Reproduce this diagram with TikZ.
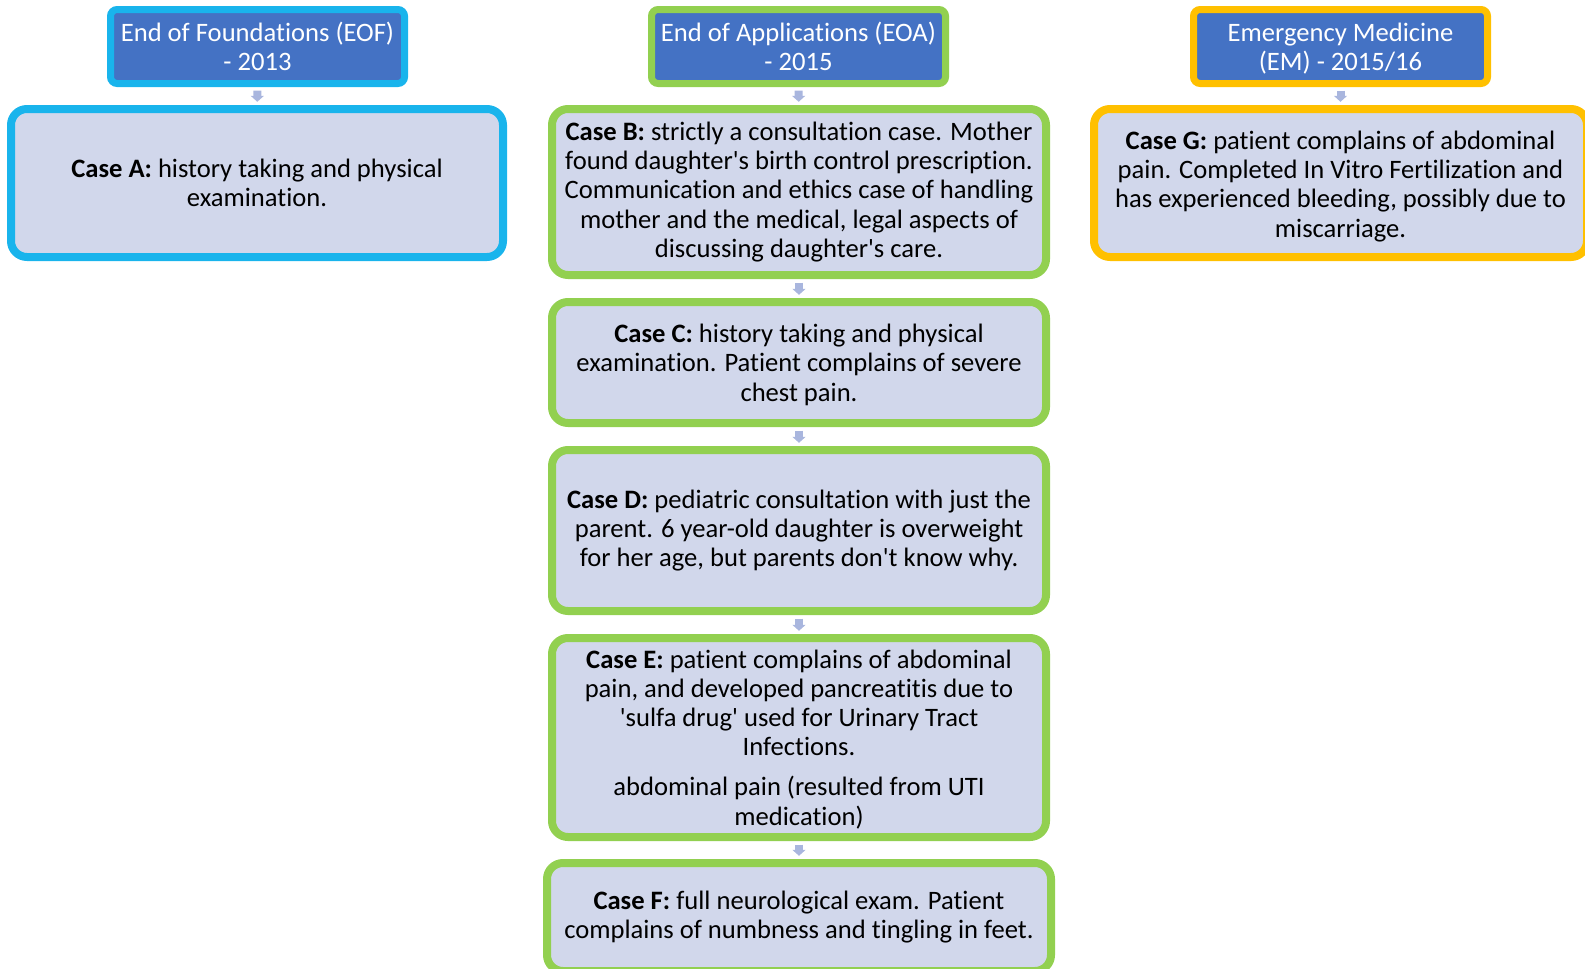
\documentclass[tikz,border=0pt]{standalone}
\usepackage{fontspec}
\newfontfamily\calfont{Carlito}[Ligatures={NoCommon}]
\usetikzlibrary{arrows.meta}
\definecolor{cyanb}{HTML}{19B4EC}
\definecolor{greenb}{HTML}{92D050}
\definecolor{goldb}{HTML}{FFC000}
\definecolor{headfill}{HTML}{4472C4}
\definecolor{casefill}{HTML}{D1D7EB}
\definecolor{arrowc}{HTML}{A9B6DE}
\tikzset{
  header/.style={draw=#1, line width=3.5pt, fill=headfill, rounded corners=3.3pt,
    minimum width=147pt, minimum height=37pt, inner sep=0pt, align=center,
    text=white, font=\calfont\fontsize{13.3}{14.6}\selectfont},
  casebox/.style={draw=#1, line width=4pt, fill=casefill, rounded corners=8pt,
    inner sep=0pt, align=center, text=black, font=\calfont\fontsize{13.3}{14.6}\selectfont},
  conn/.style={draw=arrowc, line width=4pt, shorten <=1.8pt, shorten >=1.6pt,
    -{Triangle[width=6.5pt,length=3pt]}}
}
\begin{document}
\begin{tikzpicture}[x=0.5pt,y=-0.5pt]
\useasboundingbox (0,0) rectangle (1585,969);
\clip (0,0) rectangle (1585,969);
% headers
\node[header=cyanb] (hA) at (257.5,46.5) {End of Foundations (EOF)\\- 2013};
\node[header=greenb] (hB) at (798.5,46.5) {End of Applications (EOA)\\- 2015};
\node[header=goldb] (hC) at (1340.5,46.5) {\rule{0pt}{11pt}Emergency Medicine\\(EM) - 2015/16};
% column 1
\node[casebox=cyanb, minimum width=246pt, minimum height=74pt] (cA) at (257,183)
  {\textbf{Case A:} history taking and physical\\examination.};
% column 2
\node[casebox=greenb, minimum width=247pt, minimum height=83pt] (cB) at (799,192)
  {\textbf{Case B:} strictly a consultation case. Mother\\found daughter's birth control prescription.\\Communication and ethics case of handling\\mother and the medical, legal aspects of\\discussing daughter's care.};
\node[casebox=greenb, minimum width=247pt, minimum height=60.5pt] (cC) at (799,362.5)
  {\rule{0pt}{11.5pt}\textbf{Case C:} history taking and physical\\examination. Patient complains of severe\\chest pain.};
\node[casebox=greenb, minimum width=247pt, minimum height=80.5pt] (cD) at (799,530.5)
  {\textbf{Case D:} pediatric consultation with just the\\parent. 6 year-old daughter is overweight\\for her age, but parents don't know why.};
\node[casebox=greenb, minimum width=247pt, minimum height=99.5pt] (cE) at (799,737.5)
  {\rule{0pt}{11pt}\textbf{Case E:} patient complains of abdominal\\pain, and developed pancreatitis due to\\'sulfa drug' used for Urinary Tract\\Infections.\\[5.5pt]abdominal pain (resulted from UTI\\medication)};
\node[casebox=greenb, minimum width=252pt, minimum height=54pt] (cF) at (799,917)
  {\textbf{Case F:} full neurological exam. Patient\\complains of numbness and tingling in feet.};
% column 3
\node[casebox=goldb, minimum width=246.5pt, minimum height=74pt] (cG) at (1340.5,183)
  {\rule{0pt}{12.5pt}\textbf{Case G:} patient complains of abdominal\\pain. Completed In Vitro Fertilization and\\has experienced bleeding, possibly due to\\miscarriage.};
% connectors
\draw[conn] (hA) -- (cA);
\draw[conn] (hB) -- (cB);
\draw[conn] (cB) -- (cC);
\draw[conn] (cC) -- (cD);
\draw[conn] (cD) -- (cE);
\draw[conn] (cE) -- (cF);
\draw[conn] (hC) -- (cG);
\end{tikzpicture}
\end{document}
